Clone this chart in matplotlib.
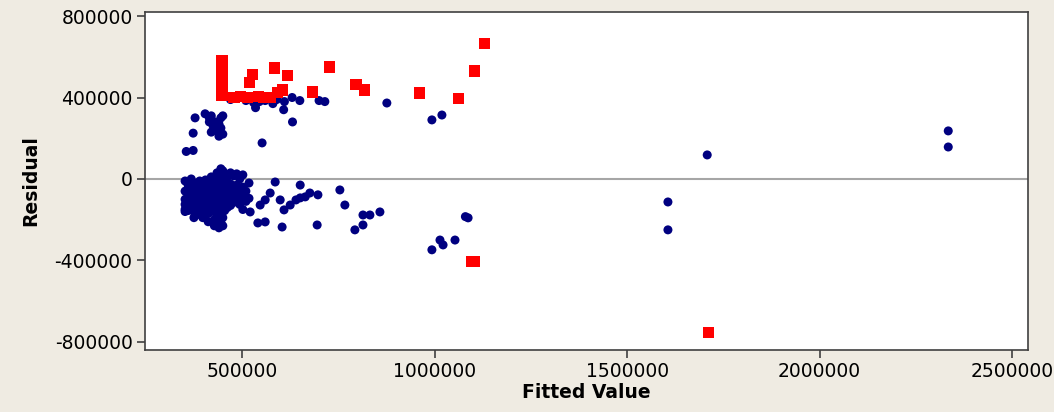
import matplotlib
matplotlib.use("Agg")
import matplotlib.pyplot as plt
import numpy as np

# fitted values / residuals (in thousands), blue = regular, red = flagged
core = {
    352: [-10, -60, -100, -125, -150, -160],
    360: [-30, -80, -110, -140, -155],
    368: [0, -50, -90, -120, -145],
    375: [-20, -70, -100, -130, -160, -190],
    383: [-40, -85, -115, -150, -175],
    390: [-10, -60, -95, -125, -145, -165],
    398: [-30, -75, -105, -135, -190],
    405: [-5, -50, -90, -120, -150],
    412: [-25, -70, -100, -130, -170, -210],
    420: [10, -40, -80, -115, -140, -160],
    428: [-20, -60, -95, -125, -200, -230],
    435: [30, -10, -45, -85, -110, -145, -175],
    440: [20, -30, -70, -100, -135, -160, -240],
    445: [50, 0, -35, -65, -90, -120, -150, -180, -215],
    450: [40, -15, -55, -80, -105, -130, -160, -190, -230],
    455: [25, -20, -60, -95, -125, -155],
    462: [10, -40, -75, -110, -140],
    470: [30, -25, -65, -100, -130],
    478: [15, -45, -85, -115],
    486: [25, -30, -70, -105],
    494: [0, -50, -90, -125],
    502: [20, -40, -80, -150],
    510: [-60, -110],
    518: [-20, -95],
}
blue_fit = [f for f, rs in core.items() for r in rs]
blue_res = [r for f, rs in core.items() for r in rs]

blue_fit += [355, 373, 373, 378, 404, 415, 420, 425, 430, 420, 440, 445, 450, 445, 430, 415, 440, 450,
             470, 490, 510, 530, 545, 560, 580, 590, 610, 630, 650, 700, 715, 535, 608, 631, 552,
             541, 547, 560, 560, 573, 586, 599, 604, 609, 625, 640, 651, 651, 664, 676, 695, 697, 521,
             754, 767, 793, 814, 814, 832, 858,
             876, 993, 1019, 993, 1014, 1022, 1053, 1080, 1087, 1606, 1606, 1708, 2334, 2334]
blue_res += [135, 140, 225, 300, 320, 300, 310, 260, 240, 230, 270, 300, 310, 250, 280, 280, 210, 220,
             390, 400, 385, 375, 380, 385, 370, 390, 380, 400, 385, 385, 380, 350, 340, 280, 177,
             -216, -128, -103, -211, -69, -15, -103, -236, -152, -128, -103, -30, -93, -88, -69, -226, -78, -162,
             -54, -128, -250, -226, -177, -177, -162,
             373, 290, 314, -348, -300, -324, -300, -185, -191, -113, -250, 118, 236, 157]

red_fit = [448, 448, 448, 448, 448, 448, 448, 448, 479, 497, 513, 520, 526, 542, 557, 573, 585, 593,
           606, 617, 684, 728, 796, 819, 960, 1061, 1103, 1129, 1095, 1103, 1712]
red_res = [580, 555, 530, 505, 480, 455, 430, 410, 400, 405, 400, 475, 515, 407, 402, 400, 545, 425,
           437, 510, 427, 550, 466, 437, 422, 393, 530, 667, -407, -407, -756]

x_ticks = [500000, 1000000, 1500000, 2000000, 2500000]
y_ticks = [-800000, -400000, 0, 400000, 800000]

bg = "#efebe2"
fig = plt.figure(figsize=(10.54, 4.12), dpi=100, facecolor=bg)
ax = fig.add_axes([0.1376, 0.1505, 0.8377, 0.8204])
ax.set_facecolor("white")

ax.axhline(0, color="#a6a6a6", lw=1.5, zorder=1)
ax.scatter(np.array(blue_fit) * 1000, np.array(blue_res) * 1000, s=42, marker="o",
           color="#000080", edgecolors="none", zorder=3)
ax.scatter(np.array(red_fit) * 1000, np.array(red_res) * 1000, s=64, marker="s",
           color="#ff0000", edgecolors="none", zorder=4)

ax.set_xlim(248000, 2541000)
ax.set_ylim(-840000, 820000)
ax.set_xticks(x_ticks)
ax.set_xticklabels([str(v) for v in x_ticks])
ax.set_yticks(y_ticks)
ax.set_yticklabels([str(v) for v in y_ticks])

for s in ax.spines.values():
    s.set_color("#404040")
    s.set_linewidth(1.2)
ax.tick_params(direction="out", length=6, width=1.2, color="#404040",
               labelsize=13.5, labelcolor="black", pad=3)

ax.set_xlabel("Fitted Value", fontsize=13.5, fontweight="bold", labelpad=1)
ax.set_ylabel("Residual", fontsize=13.5, fontweight="bold", labelpad=10)

fig.savefig("out.png", dpi=100, facecolor=bg)
